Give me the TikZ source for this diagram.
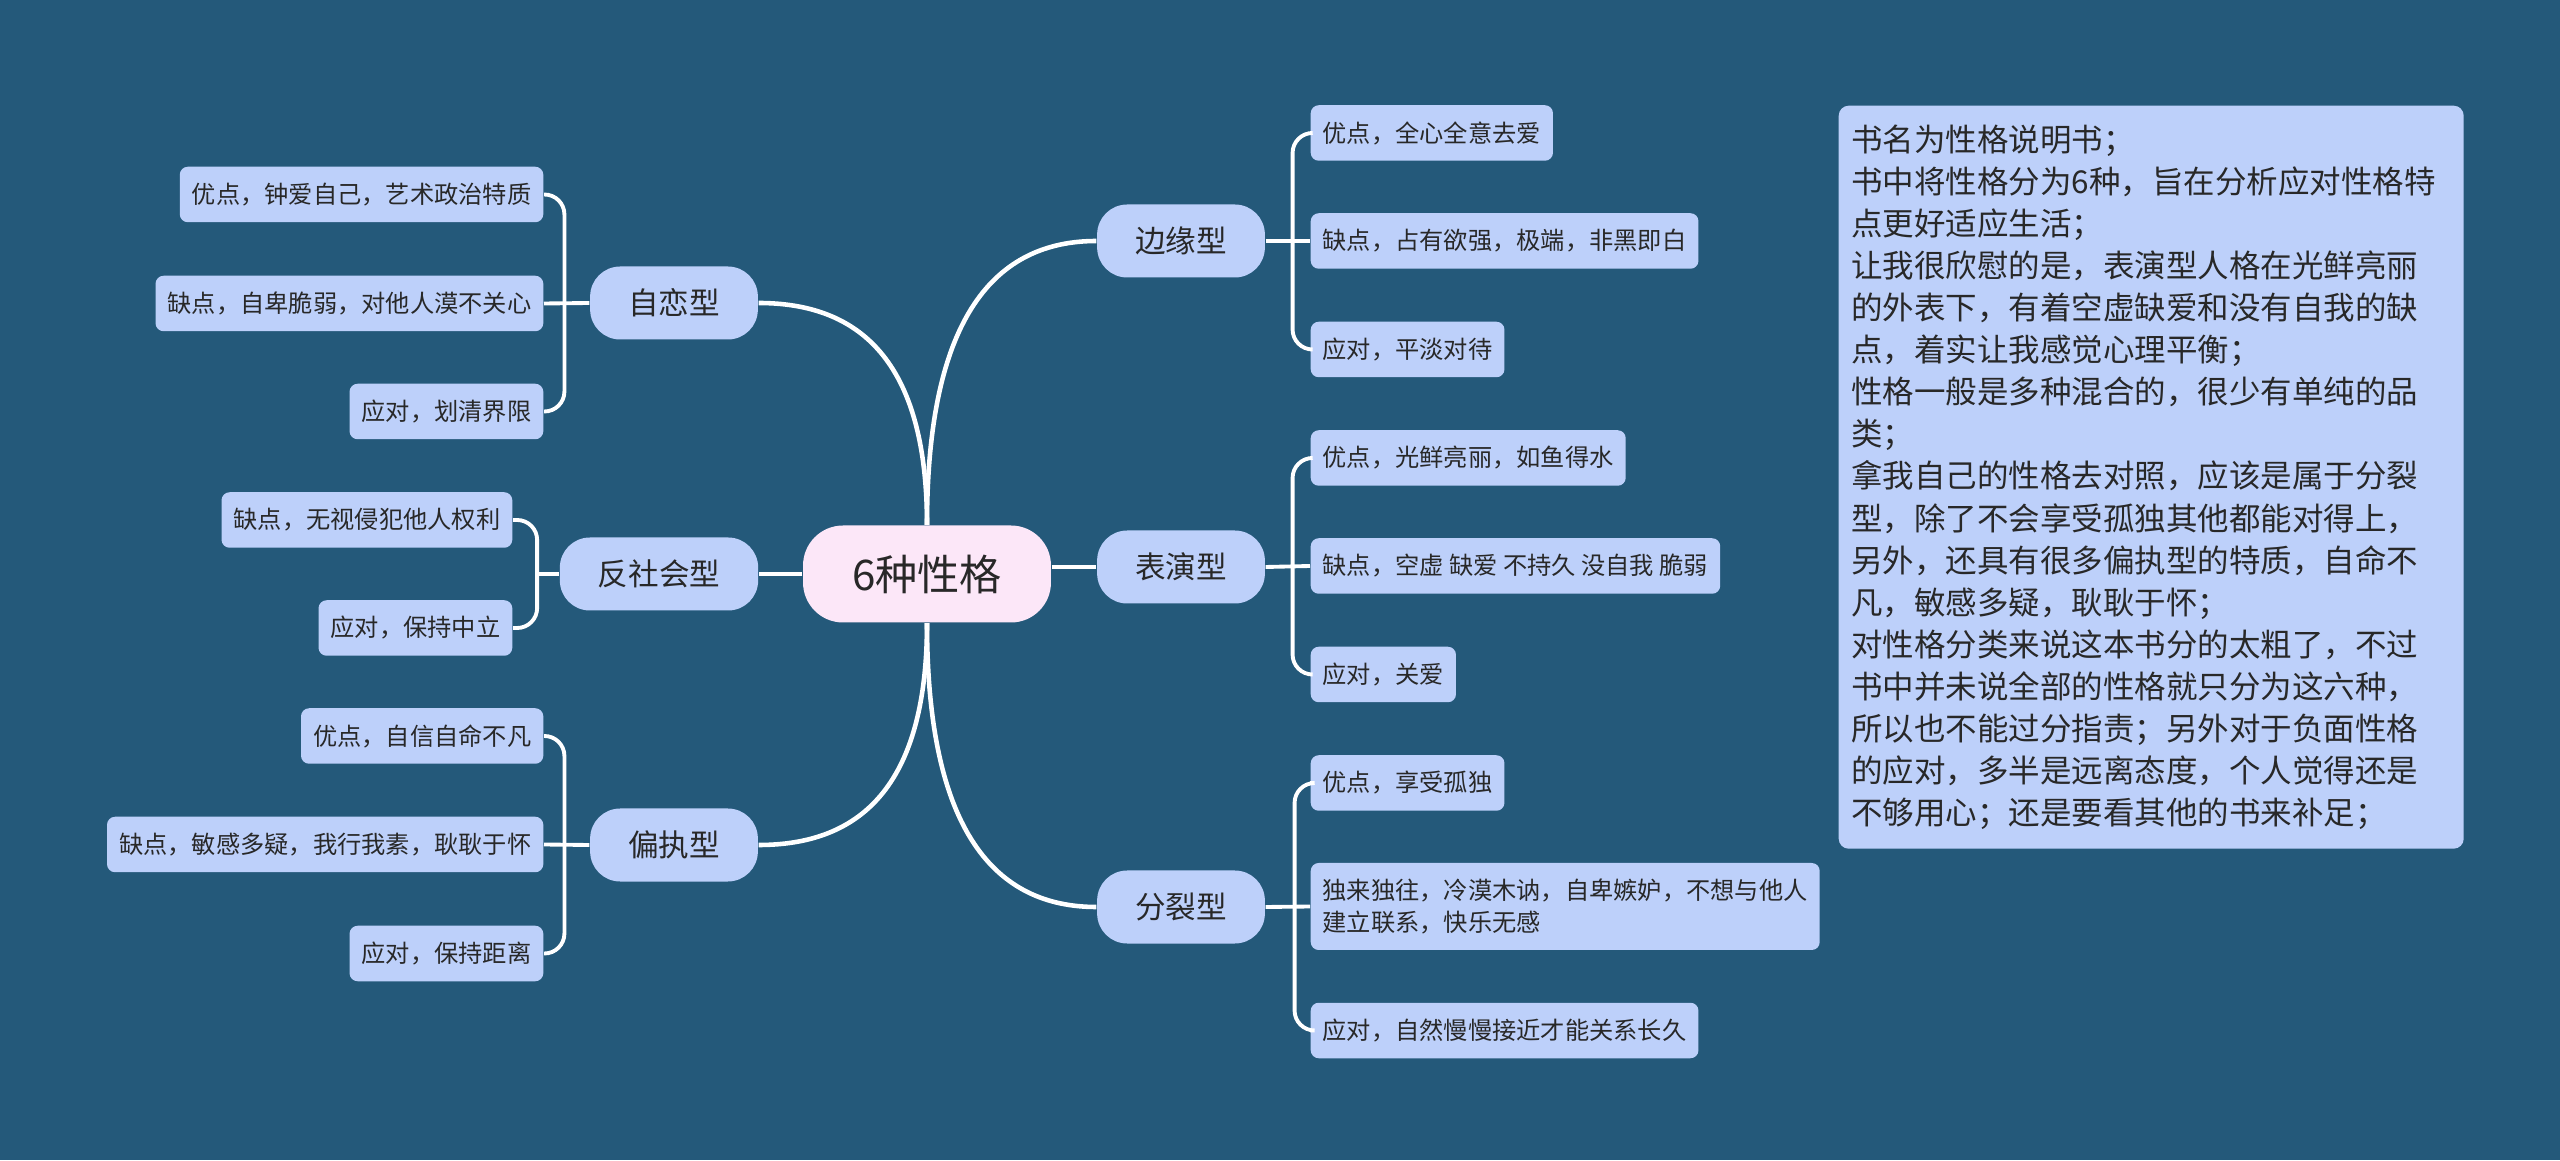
\documentclass[tikz,border=0pt]{standalone}
\usepackage{fontspec}
\setmainfont{Noto Sans CJK SC}
\definecolor{sea}{RGB}{36,89,122}
\definecolor{petal}{RGB}{189,208,250}
\definecolor{blush}{RGB}{252,231,248}
\definecolor{ink}{RGB}{40,40,40}
\tikzset{
  hub/.style={fill=blush, rounded corners=4mm, inner xsep=4.9mm, minimum height=9.7mm,
              text=ink, font=\fontsize{12}{14}\selectfont},
  topic/.style={fill=petal, rounded corners=3mm, inner xsep=3.8mm, minimum height=7.3mm,
              text=ink, font=\fontsize{8.7}{10}\selectfont},
  leaf/.style={fill=petal, rounded corners=0.8mm, inner xsep=1.2mm, minimum height=5.55mm,
              text=ink, align=left, font=\fontsize{6.9}{8.96}\selectfont},
  memo/.style={fill=petal, rounded corners=1mm, inner xsep=1.25mm, text width=6cm,
              minimum height=7.43cm, anchor=north west, align=left, text=ink,
              font=\fontsize{8.96}{11.98}\selectfont},
  trunk/.style={draw=white, line width=1.3pt},
  twig/.style={draw=white, line width=1.1pt, rounded corners=2mm},
}
\begin{document}
\begin{tikzpicture}
        \fill[sea] (0,0) rectangle (25.6,11.6);
        \useasboundingbox (0,0) rectangle (25.6,11.6);
        \node[hub] (hub) at (9.27,5.86) {6种性格};
        \node[topic] (nar) at (6.74,8.57) {自恋型};
        \node[topic] (anti) at (6.59,5.86) {反社会型};
        \node[topic] (para) at (6.74,3.15) {偏执型};
        \node[topic] (bord) at (11.81,9.19) {边缘型};
        \node[topic] (hist) at (11.81,5.93) {表演型};
        \node[topic] (schiz) at (11.81,2.53) {分裂型};
        \node[leaf,anchor=east] (nar1) at (5.44,9.655) {优点，钟爱自己，艺术政治特质};
        \node[leaf,anchor=east] (nar2) at (5.44,8.565) {缺点，自卑脆弱，对他人漠不关心};
        \node[leaf,anchor=east] (nar3) at (5.44,7.485) {应对，划清界限};
        \node[leaf,anchor=east] (anti1) at (5.13,6.40) {缺点，无视侵犯他人权利};
        \node[leaf,anchor=east] (anti2) at (5.13,5.32) {应对，保持中立};
        \node[leaf,anchor=east] (para1) at (5.44,4.24) {优点，自信自命不凡};
        \node[leaf,anchor=east] (para2) at (5.44,3.155) {缺点，敏感多疑，我行我素，耿耿于怀};
        \node[leaf,anchor=east] (para3) at (5.44,2.065) {应对，保持距离};
        \node[leaf,anchor=west] (bord1) at (13.10,10.27) {优点，全心全意去爱};
        \node[leaf,anchor=west] (bord2) at (13.10,9.19) {缺点，占有欲强，极端，非黑即白};
        \node[leaf,anchor=west] (bord3) at (13.10,8.105) {应对，平淡对待};
        \node[leaf,anchor=west] (hist1) at (13.10,7.02) {优点，光鲜亮丽，如鱼得水};
        \node[leaf,anchor=west] (hist2) at (13.10,5.94) {缺点，空虚 缺爱 不持久 没自我 脆弱};
        \node[leaf,anchor=west] (hist3) at (13.10,4.855) {应对，关爱};
        \node[leaf,anchor=west] (schiz1) at (13.10,3.77) {优点，享受孤独};
        \node[leaf,anchor=west,minimum height=8.7mm] (schiz2) at (13.10,2.535) {独来独往，冷漠木讷，自卑嫉妒，不想与他人\\建立联系，快乐无感};
        \node[leaf,anchor=west] (schiz3) at (13.10,1.295) {应对，自然慢慢接近才能关系长久};
        \node[memo] (memo) at (18.38,10.55) {书名为性格说明书；\\
          书中将性格分为6种，旨在分析应对性格特\\
          点更好适应生活；\\
          让我很欣慰的是，表演型人格在光鲜亮丽\\
          的外表下，有着空虚缺爱和没有自我的缺\\
          点，着实让我感觉心理平衡；\\
          性格一般是多种混合的，很少有单纯的品\\
          类；\\
          拿我自己的性格去对照，应该是属于分裂\\
          型，除了不会享受孤独其他都能对得上，\\
          另外，还具有很多偏执型的特质，自命不\\
          凡，敏感多疑，耿耿于怀；\\
          对性格分类来说这本书分的太粗了，不过\\
          书中并未说全部的性格就只分为这六种，\\
          所以也不能过分指责；另外对于负面性格\\
          的应对，多半是远离态度，个人觉得还是\\
          不够用心；还是要看其他的书来补足；};
        \coordinate (narj) at ([xshift=-2.5mm]nar.west);
        \coordinate (antij) at ([xshift=-2.2mm]anti.west);
        \coordinate (paraj) at ([xshift=-2.5mm]para.west);
        \coordinate (bordj) at ([xshift=2.7mm]bord.east);
        \coordinate (histj) at ([xshift=2.7mm]hist.east);
        \coordinate (schizj) at ([xshift=2.9mm]schiz.east);
        \draw[trunk] (hub.north) .. controls +(0,1.65) and +(1.0,0) .. (nar.east);
        \draw[trunk] (hub.north) .. controls +(0,2.1) and +(-1.0,0) .. (bord.west);
        \draw[trunk] (hub.south) .. controls +(0,-1.65) and +(1.0,0) .. (para.east);
        \draw[trunk] (hub.south) .. controls +(0,-2.1) and +(-1.0,0) .. (schiz.west);
        \draw[trunk] (hub.west) -- (anti.east);
        \draw[trunk] (hist.west -| hub.east) -- (hist.west);
        \draw[twig] (nar.west) -- (nar2.east);
        \draw[twig] (narj) |- (nar1.east);
        \draw[twig] (narj) |- (nar3.east);
        \draw[twig] (anti.west) -- (antij);
        \draw[twig] (antij) |- (anti1.east);
        \draw[twig] (antij) |- (anti2.east);
        \draw[twig] (para.west) -- (para2.east);
        \draw[twig] (paraj) |- (para1.east);
        \draw[twig] (paraj) |- (para3.east);
        \draw[twig] (bord.east) -- (bord2.west);
        \draw[twig] (bordj) |- (bord1.west);
        \draw[twig] (bordj) |- (bord3.west);
        \draw[twig] (hist.east) -- (hist2.west);
        \draw[twig] (histj) |- (hist1.west);
        \draw[twig] (histj) |- (hist3.west);
        \draw[twig] (schiz.east) -- (schiz2.west);
        \draw[twig] (schizj) |- (schiz1.west);
        \draw[twig] (schizj) |- (schiz3.west);
      \end{tikzpicture}
\end{document}
